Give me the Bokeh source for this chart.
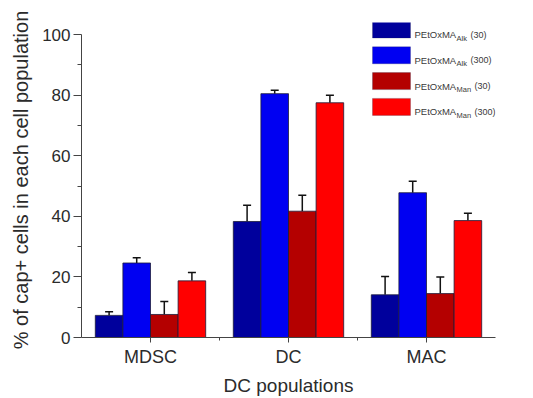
import numpy as np
from bokeh.plotting import figure
from bokeh.models import (ColumnDataSource, Range1d, FixedTicker, Whisker, TeeHead,
                          Label, BoxAnnotation)
from bokeh.embed import file_html
from bokeh.resources import INLINE

# ---- data ----
categories = ["MDSC", "DC", "MAC"]
series_main = ["PEtOxMA", "PEtOxMA", "PEtOxMA", "PEtOxMA"]
series_sub = ["Alk", "Alk", "Man", "Man"]
series_suffix = ["(30)", "(300)", "(30)", "(300)"]
alk30 = [7.3, 38.3, 14.1]
alk300 = [24.6, 80.5, 47.8]
man30 = [7.6, 41.7, 14.5]
man300 = [18.7, 77.5, 38.6]
alk30_err = [1.2, 5.4, 6.0]
alk300_err = [1.7, 1.1, 3.8]
man30_err = [4.3, 5.3, 5.5]
man300_err = [2.8, 2.5, 2.4]
y_ticks = [0, 20, 40, 60, 80, 100]
y_label = "% of cap+ cells in each cell population"
x_label = "DC populations"

values = [alk30, alk300, man30, man300]
errors = [alk30_err, alk300_err, man30_err, man300_err]
colors = ["#00009c", "#0000f2", "#b40000", "#ff0000"]

FONT = "Liberation Sans"
TXT = "#2b2b2b"

p = figure(width=533, height=398, output_backend="svg", toolbar_location=None,
           x_range=Range1d(0.5, 3.5), y_range=Range1d(0, 104),
           min_border_left=81, min_border_right=38, min_border_top=22,
           min_border_bottom=59)
p.outline_line_color = None
p.xgrid.visible = False
p.ygrid.visible = False
p.background_fill_color = "white"
p.border_fill_color = "white"

group_x = np.arange(1, len(categories) + 1)
bar_w = 0.2
offsets = [-0.3, -0.1, 0.1, 0.3]
for vals, errs, col, off in zip(values, errors, colors, offsets):
    xs = group_x + off
    src = ColumnDataSource(dict(x=xs, top=vals,
                                upper=np.array(vals) + np.array(errs),
                                lower=vals))
    p.vbar(x="x", top="top", bottom=0, width=bar_w, source=src,
           fill_color=col, line_color="#1c1c3a", line_width=0.8)
    w = Whisker(source=src, base="x", upper="upper", lower="lower",
                line_color="#111111", line_width=1.5,
                upper_head=TeeHead(size=8, line_color="#111111", line_width=1.5),
                lower_head=None)
    p.add_layout(w)

# x axis
xa = p.xaxis[0]
xa.ticker = FixedTicker(ticks=list(group_x), minor_ticks=[1.5, 2.5])
xa.major_label_overrides = {int(i): c for i, c in zip(group_x, categories)}
xa.major_tick_out = 5
xa.major_tick_in = 0
xa.minor_tick_out = 3
xa.minor_tick_in = 0
xa.major_label_standoff = 4
xa.axis_label = x_label
xa.axis_label_standoff = 5

# y axis
ya = p.yaxis[0]
ya.ticker = FixedTicker(ticks=y_ticks, minor_ticks=[10, 30, 50, 70, 90])
ya.bounds = (0, 100)
ya.major_tick_out = 8
ya.major_tick_in = 0
ya.minor_tick_out = 4
ya.minor_tick_in = 0
ya.major_label_standoff = 3
ya.axis_label = y_label
ya.axis_label_standoff = 7

for ax, tsize, lsize in ((xa, "18px", "19px"), (ya, "17px", "20px")):
    ax.axis_line_color = "#444444"
    ax.major_tick_line_color = "#444444"
    ax.minor_tick_line_color = "#444444"
    ax.major_label_text_font = FONT
    ax.major_label_text_font_size = tsize
    ax.major_label_text_color = TXT
    ax.axis_label_text_font = FONT
    ax.axis_label_text_font_size = lsize
    ax.axis_label_text_font_style = "normal"
    ax.axis_label_text_color = TXT

# legend (manual, with subscripts), screen units relative to frame bottom-left
FL, FB = 81, 339  # frame left / bottom on canvas
def sx(cx):
    return cx - FL
def sy(cy):
    return FB - cy

LEG_TXT = "#3a3a3a"
pitch = 25.8
for i, (col, main, sub, suf) in enumerate(zip(colors, series_main, series_sub, series_suffix)):
    top = 22.5 + i * pitch
    p.add_layout(BoxAnnotation(left=sx(372), right=sx(410), top=sy(top), bottom=sy(top + 17),
                               left_units="screen", right_units="screen",
                               top_units="screen", bottom_units="screen",
                               fill_color=col, fill_alpha=1.0,
                               line_color="#1c1c3a", line_width=0.8))
    base = top + 13.5
    p.add_layout(Label(x=sx(414), y=sy(base), x_units="screen", y_units="screen",
                       text=main, text_font=FONT, text_font_size="9.5px",
                       text_color=LEG_TXT, text_baseline="alphabetic"))
    p.add_layout(Label(x=sx(456), y=sy(base + 3.5), x_units="screen", y_units="screen",
                       text=sub, text_font=FONT, text_font_size="7.5px",
                       text_color=LEG_TXT, text_baseline="alphabetic"))
    suf_x = 470 if sub == "Alk" else 474
    p.add_layout(Label(x=sx(suf_x), y=sy(base), x_units="screen", y_units="screen",
                       text=suf, text_font=FONT, text_font_size="9px",
                       text_color=LEG_TXT, text_baseline="alphabetic"))

open("out.html", "w").write(file_html(p, INLINE))
